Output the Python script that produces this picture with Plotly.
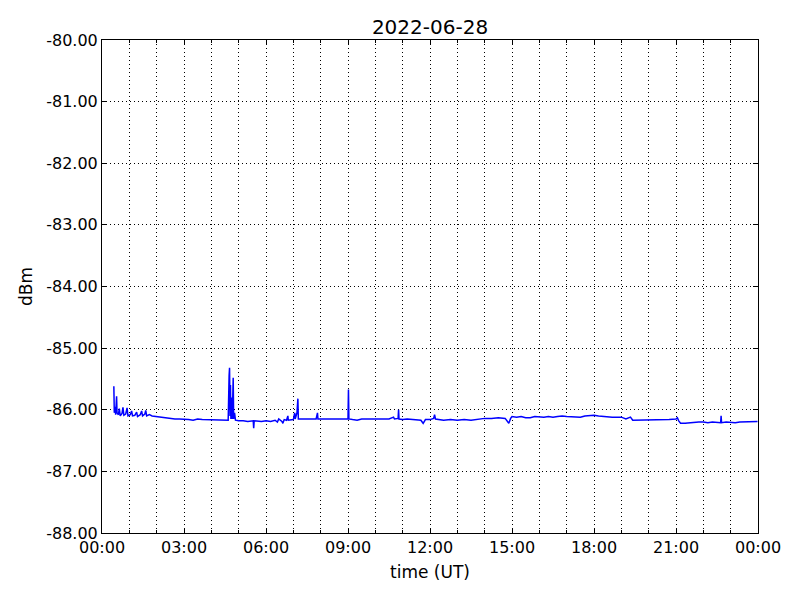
import plotly.graph_objects as go

DAY = "2022-06-28"

times = [
    "00:26", "00:27", "00:29", "00:30", "00:32", "00:33", "00:36", "00:38", "00:40", "00:44",
    "00:46", "00:48", "00:52", "00:55", "00:57", "01:02", "01:05", "01:07", "01:12", "01:16",
    "01:18", "01:24", "01:27", "01:29", "01:34", "01:36", "01:38", "01:44", "01:50", "02:00",
    "02:10", "02:20", "02:30", "02:40", "02:50", "03:00", "03:10", "03:20", "03:30", "03:40",
    "03:50", "04:00", "04:10", "04:20", "04:30", "04:37", "04:39", "04:40", "04:41", "04:42",
    "04:43", "04:45", "04:46", "04:47", "04:48", "04:49", "04:51", "04:53", "05:00", "05:10",
    "05:20", "05:32", "05:33", "05:34", "05:50", "06:00", "06:10", "06:20", "06:25", "06:28",
    "06:35", "06:37", "06:40", "06:45", "06:48", "06:49", "06:55", "07:00", "07:03", "07:04",
    "07:08", "07:10", "07:11", "07:20", "07:30", "07:40", "07:50", "07:53", "07:54", "08:00",
    "08:15", "08:30", "08:45", "09:00", "09:01", "09:02", "09:10", "09:20", "09:30", "09:40",
    "09:50", "10:00", "10:10", "10:20", "10:30", "10:40", "10:42", "10:50", "10:51", "10:52",
    "11:00", "11:10", "11:20", "11:30", "11:40", "11:45", "11:50", "12:00", "12:08", "12:10",
    "12:12", "12:30", "12:45", "13:00", "13:15", "13:30", "13:45", "14:00", "14:15", "14:30",
    "14:45", "14:50", "14:53", "14:57", "15:00", "15:10", "15:20", "15:30", "15:40", "15:50",
    "16:00", "16:10", "16:20", "16:30", "16:40", "16:50", "17:00", "17:10", "17:20", "17:30",
    "17:40", "17:50", "18:00", "18:10", "18:20", "18:30", "18:40", "18:50", "19:00", "19:10",
    "19:15", "19:20", "19:25", "19:30", "19:40", "19:50", "20:00", "20:15", "20:30", "20:45",
    "21:00", "21:03", "21:06", "21:10", "21:20", "21:30", "21:40", "21:50", "22:00", "22:10",
    "22:20", "22:30", "22:38", "22:39", "22:40", "22:50", "23:00", "23:10", "23:20", "23:30",
    "23:40", "23:50", "23:59",
]

dbm = [
    -85.62, -86.05, -85.95, -86.08, -85.78, -86.05, -86.08, -85.98, -86.10, -86.06,
    -85.96, -86.09, -86.07, -85.97, -86.10, -86.08, -86.02, -86.10, -86.09, -86.04,
    -86.11, -86.08, -86.02, -86.10, -86.07, -86.01, -86.10, -86.08, -86.10, -86.11,
    -86.13, -86.14, -86.14, -86.15, -86.15, -86.15, -86.16, -86.17, -86.15, -86.16,
    -86.16, -86.17, -86.16, -86.17, -86.17, -86.17, -85.45, -85.32, -86.10, -85.60,
    -86.15, -85.80, -86.15, -85.90, -85.48, -86.15, -86.05, -86.17, -86.18, -86.18,
    -86.19, -86.18, -86.30, -86.18, -86.19, -86.18, -86.19, -86.17, -86.20, -86.15,
    -86.19, -86.22, -86.16, -86.17, -86.10, -86.17, -86.16, -86.16, -86.05, -86.15,
    -86.05, -85.82, -86.15, -86.15, -86.16, -86.15, -86.15, -86.05, -86.15, -86.15,
    -86.15, -86.15, -86.16, -86.15, -85.67, -86.15, -86.16, -86.17, -86.15, -86.15,
    -86.16, -86.16, -86.15, -86.16, -86.15, -86.12, -86.15, -86.14, -86.00, -86.15,
    -86.16, -86.15, -86.16, -86.16, -86.17, -86.22, -86.16, -86.16, -86.14, -86.08,
    -86.15, -86.17, -86.16, -86.17, -86.16, -86.17, -86.15, -86.14, -86.14, -86.13,
    -86.14, -86.18, -86.22, -86.14, -86.11, -86.12, -86.11, -86.13, -86.13, -86.11,
    -86.12, -86.12, -86.11, -86.12, -86.11, -86.10, -86.11, -86.11, -86.11, -86.12,
    -86.10, -86.09, -86.09, -86.10, -86.11, -86.11, -86.12, -86.12, -86.12, -86.15,
    -86.14, -86.12, -86.17, -86.17, -86.17, -86.16, -86.17, -86.17, -86.16, -86.16,
    -86.15, -86.13, -86.18, -86.22, -86.22, -86.21, -86.21, -86.20, -86.20, -86.21,
    -86.20, -86.21, -86.21, -86.10, -86.21, -86.20, -86.21, -86.21, -86.20, -86.20,
    -86.19, -86.19, -86.19,
]

y_tick_vals = [-88, -87, -86, -85, -84, -83, -82, -81, -80]
y_tick_text = ["-88.00", "-87.00", "-86.00", "-85.00", "-84.00",
               "-83.00", "-82.00", "-81.00", "-80.00"]

x = [f"{DAY} {t}" for t in times]

fig = go.Figure()
fig.add_trace(go.Scatter(x=x, y=dbm, mode="lines",
                         line=dict(color="#0000ff", width=1.5),
                         showlegend=False))

tick_font = dict(family="DejaVu Sans", size=16, color="black")
title_font = dict(family="DejaVu Sans", size=17, color="black")
grid_dash = "1px,3px"

fig.update_layout(
    width=800, height=600,
    margin=dict(l=94, r=50, t=32, b=75, autoexpand=False),
    paper_bgcolor="white", plot_bgcolor="white",
    font=tick_font,
    title=dict(text="2022-06-28", x=0.5, xref="paper", xanchor="center",
               y=1 - 19 / 600, yref="container", yanchor="middle",
               font=dict(family="DejaVu Sans", size=20, color="black")),
    xaxis=dict(
        range=[f"{DAY} 00:00", "2022-06-29 00:00"],
        dtick=3 * 3600 * 1000, tick0=f"{DAY} 00:00", tickformat="%H:%M",
        ticks="inside", ticklen=5, tickcolor="black", tickfont=tick_font,
        showline=True, linecolor="black", linewidth=1, mirror="ticks",
        showgrid=True, gridcolor="black", griddash=grid_dash, gridwidth=1,
        minor=dict(dtick=3600 * 1000, ticks="inside", ticklen=3, tickcolor="black",
                   showgrid=True, gridcolor="black", griddash=grid_dash, gridwidth=1),
        title=dict(text="time (UT)", standoff=9, font=title_font),
        zeroline=False, automargin=False,
    ),
    yaxis=dict(
        range=[-88, -80], tickvals=y_tick_vals, ticktext=y_tick_text,
        ticks="inside", ticklen=5, tickcolor="black", tickfont=tick_font,
        showline=True, linecolor="black", linewidth=1, mirror="ticks",
        showgrid=True, gridcolor="black", griddash=grid_dash, gridwidth=1,
        title=dict(text="dBm", standoff=9, font=title_font),
        zeroline=False, automargin=False,
    ),
)

fig.write_html("out.html")
